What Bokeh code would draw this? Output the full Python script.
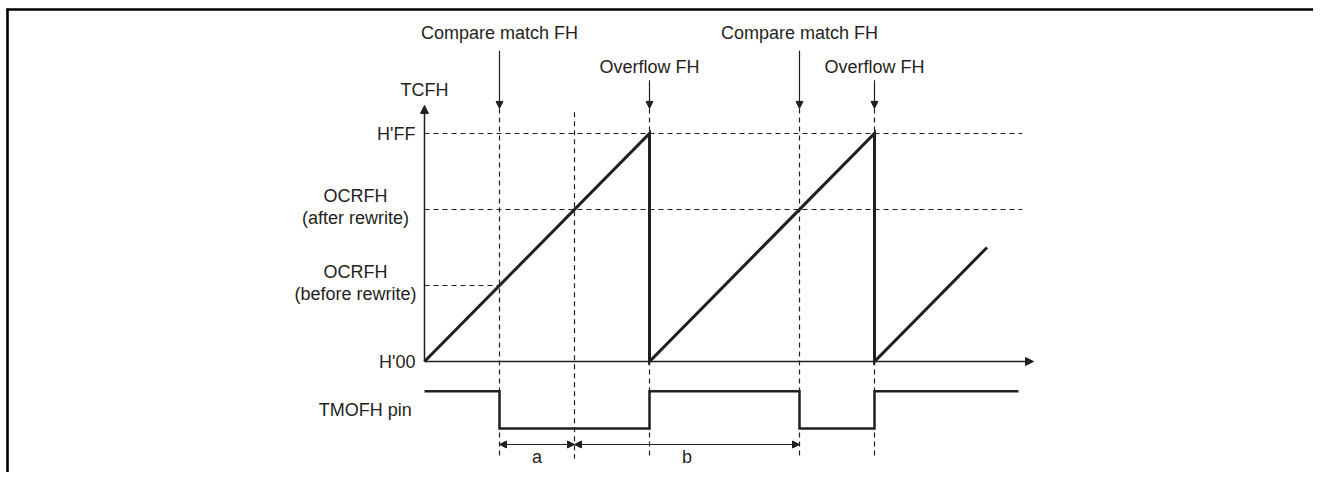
from bokeh.plotting import figure
from bokeh.models import Range1d, Arrow, NormalHead
from bokeh.core.properties import value
from bokeh.embed import file_html
from bokeh.resources import INLINE

# ---------------- data ----------------
# time in units of one third of the counter period; value: H'00 = 0, H'FF = 3
LEVEL_FF = 3
LEVEL_AFTER = 2      # OCRFH (after rewrite)
LEVEL_BEFORE = 1     # OCRFH (before rewrite)
LEVEL_00 = 0

ramp_t = [0, 3, 3, 6, 6, 7.5]
ramp_v = [0, 3, 0, 3, 0, 1.5]

pin_t = [0, 1, 1, 3, 3, 5, 5, 6, 6, 7.92]
pin_state = [1, 1, 0, 0, 1, 1, 0, 0, 1, 1]

compare_t = [1, 5]
overflow_t = [3, 6]
rewrite_match_t = [2]

dim_start = [1, 2]
dim_end = [2, 5]
dim_labels = ["a", "b"]

level_labels = ["H'FF", "H'00"]
level_values = [LEVEL_FF, LEVEL_00]
ocr_title = ["OCRFH", "OCRFH"]
ocr_sub = ["(after rewrite)", "(before rewrite)"]
ocr_values = [LEVEL_AFTER, LEVEL_BEFORE]

# ---------------- layout ----------------
W, H = 1313, 472
OX, OY = 424, 361          # origin in figure pixels
PX_T, PX_V = 75, 76
INK = "#231f20"
FONT = value("Liberation Sans")
FS = "18px"

x0r, x1r = -OX / PX_T, (W - OX) / PX_T
y0r, y1r = -(H - OY) / PX_V, OY / PX_V

p = figure(width=W, height=H, output_backend="svg", toolbar_location=None,
           x_range=Range1d(x0r, x1r), y_range=Range1d(y0r, y1r), min_border=0)
p.axis.visible = False
p.grid.visible = False
p.outline_line_color = None
p.border_fill_color = "white"
p.background_fill_color = "white"

# frame border (top and left), in pixel offsets converted to data units
bx = x0r + 7 / PX_T
by = y1r - 9 / PX_V
p.segment(x0=[bx - 1 / PX_T, bx], y0=[by, by + 1 / PX_V], x1=[x1r + 1, bx], y1=[by, y0r - 1],
          line_color="black", line_width=2.6, line_cap="butt")

TOP_ARROW = 3.33
BOTTOM_DASH = -1.276
X_END_DASH = 7.97

# horizontal dashed guides
p.segment(x0=[0, 0, 0], y0=[LEVEL_FF, LEVEL_AFTER, LEVEL_BEFORE],
          x1=[X_END_DASH, X_END_DASH, compare_t[0]], y1=[LEVEL_FF, LEVEL_AFTER, LEVEL_BEFORE],
          line_color=INK, line_width=1.2, line_dash="5 4")

# vertical dashed guides
vt = compare_t + overflow_t + rewrite_match_t
vtop = [TOP_ARROW] * 4 + [3.28]
p.segment(x0=vt, y0=vtop, x1=vt, y1=[BOTTOM_DASH] * len(vt),
          line_color=INK, line_width=1.2, line_dash="5 4")

# axes with arrows
p.add_layout(Arrow(x_start=0, y_start=0, x_end=0, y_end=3.37, line_color=INK, line_width=1.5,
                   end=NormalHead(size=8, fill_color=INK, line_color=INK)))
p.add_layout(Arrow(x_start=0, y_start=0, x_end=8.12, y_end=0, line_color=INK, line_width=1.5,
                   end=NormalHead(size=8, fill_color=INK, line_color=INK)))

# counter ramp
p.line(ramp_t, ramp_v, line_color=INK, line_width=3, line_join="miter")

# TMOFH pin
PIN_HIGH, PIN_LOW = -0.39, -0.88
pin_y = [PIN_HIGH if s else PIN_LOW for s in pin_state]
p.line(pin_t, pin_y, line_color=INK, line_width=2.5, line_join="miter")

# event arrows
for t in compare_t:
    p.add_layout(Arrow(x_start=t, y_start=4.09, x_end=t, y_end=TOP_ARROW, line_color=INK, line_width=1.2,
                       end=NormalHead(size=7, fill_color=INK, line_color=INK)))
for t in overflow_t:
    p.add_layout(Arrow(x_start=t, y_start=3.70, x_end=t, y_end=TOP_ARROW, line_color=INK, line_width=1.2,
                       end=NormalHead(size=7, fill_color=INK, line_color=INK)))

p.text(x=compare_t, y=[4.316] * len(compare_t), text=["Compare match FH"] * len(compare_t),
       text_font=FONT, text_font_size=FS, text_color=INK, text_align="center", text_baseline="middle")
p.text(x=overflow_t, y=[3.88] * len(overflow_t), text=["Overflow FH"] * len(overflow_t),
       text_font=FONT, text_font_size=FS, text_color=INK, text_align="center", text_baseline="middle")

# dimension arrows
DIM_Y = -1.092
for a, b in zip(dim_start, dim_end):
    p.add_layout(Arrow(x_start=a, y_start=DIM_Y, x_end=b, y_end=DIM_Y, line_color=INK, line_width=1.2,
                       start=NormalHead(size=7, fill_color=INK, line_color=INK),
                       end=NormalHead(size=7, fill_color=INK, line_color=INK)))
p.text(x=[(a + b) / 2 for a, b in zip(dim_start, dim_end)], y=[-1.263] * len(dim_labels), text=dim_labels,
       text_font=FONT, text_font_size=FS, text_color=INK, text_align="center", text_baseline="middle")

# y labels
p.text(x=[-0.12] * len(level_labels), y=level_values, text=level_labels,
       text_font=FONT, text_font_size=FS, text_color=INK, text_align="right", text_baseline="middle")
p.text(x=[-0.92] * len(ocr_title), y=[v + 0.18 for v in ocr_values], text=ocr_title,
       text_font=FONT, text_font_size=FS, text_color=INK, text_align="center", text_baseline="middle")
p.text(x=[-0.92] * len(ocr_sub), y=[v - 0.11 for v in ocr_values], text=ocr_sub,
       text_font=FONT, text_font_size=FS, text_color=INK, text_align="center", text_baseline="middle")
p.text(x=[0], y=[3.566], text=["TCFH"],
       text_font=FONT, text_font_size=FS, text_color=INK, text_align="center", text_baseline="middle")
p.text(x=[-0.17], y=[(PIN_HIGH + PIN_LOW) / 2], text=["TMOFH pin"],
       text_font=FONT, text_font_size=FS, text_color=INK, text_align="right", text_baseline="middle")

open("out.html", "w").write(file_html(p, INLINE))
